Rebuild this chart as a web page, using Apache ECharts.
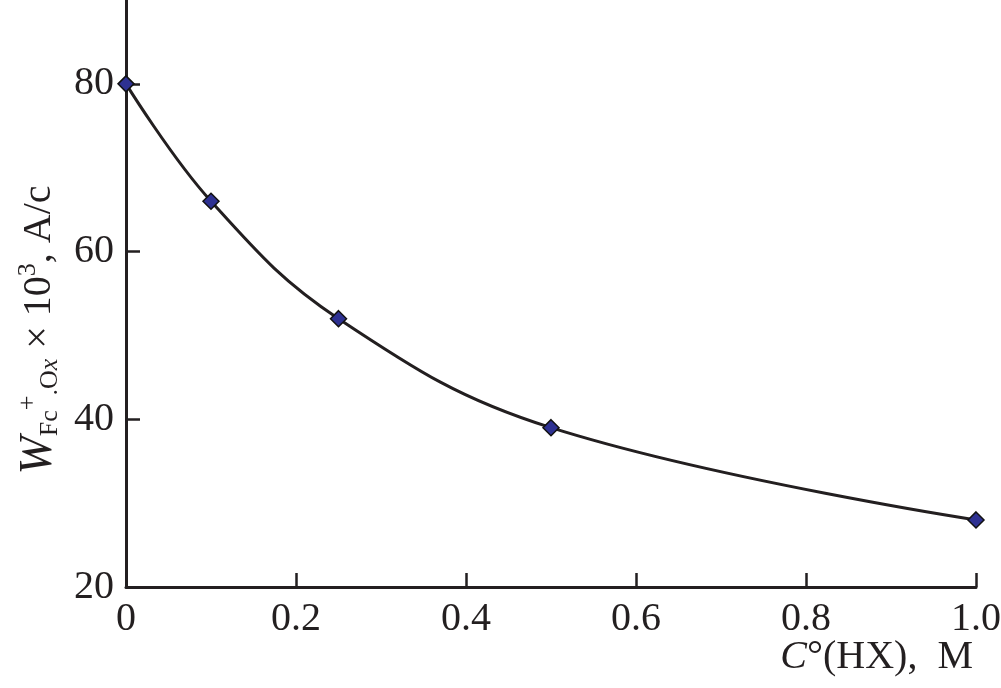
<!DOCTYPE html>
<html>
<head>
<meta charset="utf-8">
<script src="https://cdn.jsdelivr.net/npm/echarts@6/dist/echarts.min.js"></script>
<style>
html,body{margin:0;padding:0;background:#fff;}
#chart{width:1001px;height:688px;}
</style>
</head>
<body>
<div id="chart"></div>
<script>
const xValues = [0, 0.1, 0.25, 0.5, 1.0];
const yValues = [80, 66, 52, 39, 28];
const xTicks = [0, 0.2, 0.4, 0.6, 0.8, 1.0];
const yTicks = [20, 40, 60, 80];

const FONT = '"Liberation Serif", "Times New Roman", Times, serif';
const chart = echarts.init(document.getElementById('chart'));

chart.setOption({
  backgroundColor: '#ffffff',
  animation: false,
  grid: { left: 126, right: 25, top: 0, bottom: 101, outerBoundsMode: 'none', containLabel: false },
  xAxis: {
    type: 'value', min: 0, max: 1.0, interval: 0.2,
    axisLine: { show: true, lineStyle: { color: '#231f20', width: 3 } },
    axisTick: { show: true, inside: true, length: 14, lineStyle: { color: '#231f20', width: 2.5 }, customValues: xTicks },
    axisLabel: { customValues: xTicks, margin: 12, color: '#231f20', fontFamily: FONT, fontSize: 40,
      formatter: v => (v === 0 ? '0' : v === 1 ? '1.0' : String(Math.round(v * 10) / 10)) },
    splitLine: { show: false }
  },
  yAxis: {
    type: 'value', min: 20, max: 90, interval: 20,
    axisLine: { show: true, lineStyle: { color: '#231f20', width: 3 } },
    axisTick: { show: true, inside: true, length: 14, lineStyle: { color: '#231f20', width: 2.5 }, customValues: yTicks },
    axisLabel: { customValues: yTicks, margin: 12, color: '#231f20', fontFamily: FONT, fontSize: 40 },
    splitLine: { show: false }
  },
  graphic: [
    {
      type: 'text', x: 39, y: 330, rotation: Math.PI / 2,
      style: {
        text: '{w|W}{sub|Fc}{sup|+}{sub|.O}{subi|x}{n| × 10}{sup|3}{n|, A/c}',
        fill: '#231f20', align: 'center', verticalAlign: 'middle',
        fontFamily: FONT,
        rich: {
          w: { fontFamily: FONT, fontStyle: 'italic', fontSize: 46, fill: '#231f20' },
          sub: { fontFamily: FONT, fontSize: 26, padding: [22, 0, 0, 0], fill: '#231f20' },
          subi: { fontFamily: FONT, fontSize: 26, fontStyle: 'italic', padding: [22, 0, 0, 0], fill: '#231f20' },
          sup: { fontFamily: FONT, fontSize: 26, padding: [0, 0, 22, 0], fill: '#231f20' },
          n: { fontFamily: FONT, fontSize: 40, fill: '#231f20' }
        }
      }
    },
    {
      type: 'text', x: 973, y: 657,
      style: {
        text: '{i|C}{n|°(HX),}{m|M}',
        fill: '#231f20', align: 'right', verticalAlign: 'middle',
        rich: {
          i: { fontFamily: FONT, fontStyle: 'italic', fontSize: 40, fill: '#231f20' },
          n: { fontFamily: FONT, fontSize: 40, fill: '#231f20' },
          m: { fontFamily: FONT, fontSize: 40, fill: '#231f20', padding: [0, 0, 0, 20] }
        }
      }
    }
  ],
  series: [{
    type: 'line',
    data: xValues.map((x, i) => [x, yValues[i]]),
    smooth: 0.4,
    symbol: 'diamond',
    symbolSize: 16,
    lineStyle: { color: '#231f20', width: 3 },
    itemStyle: { color: '#2e3192', borderColor: '#111111', borderWidth: 1.5 },
    z: 3
  }]
});
</script>
</body>
</html>
